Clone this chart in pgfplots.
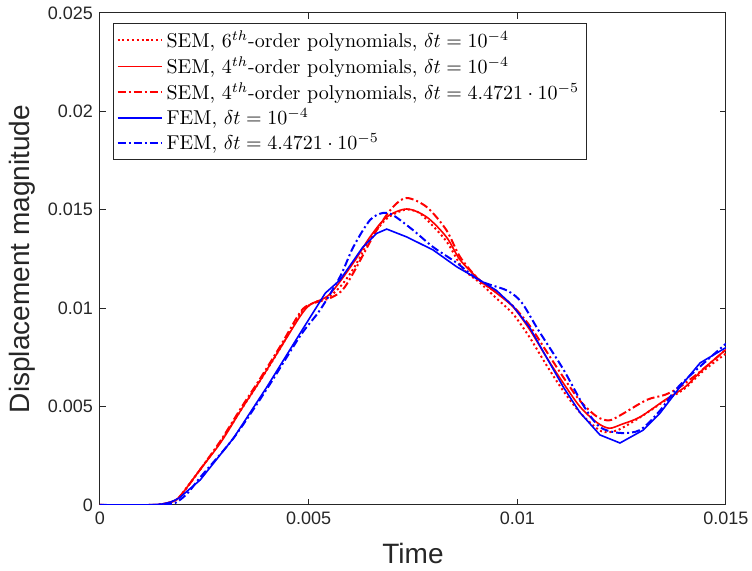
\documentclass[border=0pt]{standalone}
\usepackage{fontspec}
\setsansfont{Liberation Sans}
\usepackage{pgfplots}
\pgfplotsset{compat=1.18}
\definecolor{axgray}{rgb}{0.15,0.15,0.15}
\begin{document}
\begin{tikzpicture}
\begin{axis}[
  at={(0,0)}, anchor=south west,
  scale only axis, width=313pt, height=246pt,
  xmin=0, xmax=0.015, ymin=0, ymax=0.025,
  xtick={0,0.005,0.01,0.015}, xticklabels={0,0.005,0.01,0.015},
  ytick={0,0.005,0.01,0.015,0.02,0.025}, yticklabels={0,0.005,0.01,0.015,0.02,0.025},
  scaled ticks=false,
  tick align=inside, major tick length=3pt,
  axis line style={axgray, line width=0.5pt},
  every tick/.style={axgray, line width=0.5pt},
  ticklabel style={font=\sffamily\fontsize{9}{10}\selectfont, text=axgray},
  xlabel={Time}, ylabel={Displacement magnitude},
  label style={font=\sffamily\fontsize{14}{16}\selectfont, text=axgray},
  xlabel style={at={(axis description cs:0.5,-0.0976)}, anchor=center},
  ylabel style={at={(axis description cs:-0.1246,0.5)}, anchor=center},
  legend cell align=left,
  legend style={at={(axis description cs:0.0208,0.9797)}, anchor=north west,
    draw=axgray, line width=0.5pt, font=\fontsize{10}{12}\selectfont,
    inner sep=1.5pt, row sep=-1pt},
  legend image code/.code={\draw[#1] plot coordinates {(0pt,0pt) (22pt,0pt)};},
]
\addplot[draw=red, color=red, line width=1pt, dash pattern=on 1pt off 1.4pt, smooth] coordinates {
(0,0) (0.0012,0) (0.0015,0.00005) (0.0017,0.00015) (0.0019,0.0004) (0.0024,0.0018)
(0.0029,0.00325) (0.0034,0.0049) (0.0038,0.0062) (0.0043,0.0079) (0.0048,0.0097)
(0.00505,0.0102) (0.0055,0.0106) (0.0058,0.0112) (0.0061,0.0121) (0.00647,0.0135)
(0.00687,0.01455) (0.0073,0.0150) (0.0076,0.0149) (0.00783,0.0145) (0.0083,0.0134)
(0.0087,0.0120) (0.0091,0.0113) (0.0095,0.0105) (0.0099,0.0097) (0.0103,0.0085)
(0.0107,0.0071) (0.0111,0.0058) (0.0115,0.0047) (0.0119,0.0039) (0.0121,0.0037)
(0.0124,0.0038) (0.0129,0.0044) (0.01354,0.0053) (0.0140,0.0059) (0.01445,0.0068)
(0.0150,0.0077)};
\addlegendentry{SEM, $6^{th}$-order polynomials, $\delta t=10^{-4}$}
\addplot[draw=red, color=red, line width=0.8pt, smooth] coordinates {
(0,0) (0.0012,0) (0.0015,0.00005) (0.0017,0.00015) (0.0019,0.0004) (0.0024,0.0018)
(0.0029,0.0032) (0.0034,0.0049) (0.0038,0.0062) (0.0043,0.0079) (0.0048,0.0096)
(0.00505,0.0102) (0.0055,0.0107) (0.00607,0.0123) (0.00647,0.01362) (0.00687,0.01463)
(0.00735,0.01504) (0.00783,0.01463) (0.0083,0.01362) (0.00863,0.01245)
(0.0091,0.01143) (0.0095,0.01077) (0.0099,0.01006) (0.0103,0.0089)
(0.0107,0.0075) (0.0111,0.0062) (0.0115,0.0050) (0.0119,0.0042) (0.0122,0.0039)
(0.0125,0.0041) (0.01294,0.00447) (0.01354,0.00534) (0.01402,0.0060) (0.01445,0.0069)
(0.0150,0.0079)};
\addlegendentry{SEM, $4^{th}$-order polynomials, $\delta t=10^{-4}$}
\addplot[draw=red, color=red, line width=1pt, dash pattern=on 4pt off 1.5pt on 1pt off 1.5pt, smooth] coordinates {
(0,0) (0.0012,0) (0.0015,0.00005) (0.0017,0.00015) (0.0019,0.0004) (0.0024,0.0018)
(0.0029,0.0033) (0.0034,0.0050) (0.0038,0.0063) (0.0043,0.0080) (0.0048,0.0098)
(0.00505,0.0102) (0.0055,0.0105) (0.0058,0.0109) (0.00607,0.01179) (0.00663,0.01397)
(0.00702,0.01514) (0.00735,0.0156) (0.00783,0.01514) (0.0083,0.01397) (0.00863,0.0126)
(0.0091,0.0114) (0.0095,0.0108) (0.0099,0.0101) (0.0103,0.0091)
(0.0107,0.0078) (0.0111,0.0065) (0.0115,0.0053) (0.0119,0.0045) (0.0122,0.0043)
(0.0125,0.0046) (0.0131,0.00534) (0.01354,0.0056) (0.0139,0.0060) (0.01445,0.0069)
(0.0150,0.0079)};
\addlegendentry{SEM, $4^{th}$-order polynomials, $\delta t=4.4721\cdot10^{-5}$}
\addplot[draw=blue, color=blue, line width=0.8pt] coordinates {
(0,0) (0.0012,0) (0.0015,0.00005) (0.0017,0.00015) (0.0019,0.00036) (0.0024,0.00127)
(0.0032,0.0034) (0.0040,0.0060) (0.0048,0.00874) (0.0054,0.01077) (0.00575,0.01143)
(0.0063,0.01311) (0.00663,0.0138) (0.00687,0.01402) (0.00735,0.01362) (0.00798,0.01296)
(0.00855,0.0121) (0.0091,0.01143) (0.0095,0.0109) (0.0099,0.0101) (0.0103,0.0090)
(0.0111,0.0060) (0.0115,0.0047) (0.01198,0.00356) (0.01246,0.00315) (0.01302,0.00381)
(0.01342,0.00467) (0.0139,0.0060) (0.01438,0.00722) (0.0150,0.0080)};
\addlegendentry{FEM, $\delta t=10^{-4}$}
\addplot[draw=blue, color=blue, line width=1pt, dash pattern=on 4pt off 1.5pt on 1pt off 1.5pt, smooth] coordinates {
(0,0) (0.0012,0) (0.0015,0.00003) (0.0018,0.0001) (0.0021,0.0006) (0.0024,0.0014)
(0.0032,0.0034) (0.0040,0.0059) (0.0048,0.0086) (0.00527,0.0099) (0.00575,0.01159)
(0.00607,0.01311) (0.00647,0.01448) (0.00678,0.01484) (0.00702,0.01473) (0.0075,0.01397)
(0.00798,0.01311) (0.00855,0.0123) (0.0091,0.0114) (0.00975,0.0109) (0.0101,0.0103)
(0.0105,0.0089) (0.0111,0.0069) (0.0116,0.0050) (0.01198,0.00396) (0.01246,0.00366)
(0.01294,0.00381) (0.01342,0.0048) (0.0139,0.0061) (0.0150,0.0082)};
\addlegendentry{FEM, $\delta t=4.4721\cdot10^{-5}$}
\end{axis}
\pgfresetboundingbox
\path[use as bounding box] (-50pt,-33pt) rectangle (326pt,252.5pt);
\end{tikzpicture}
\end{document}
